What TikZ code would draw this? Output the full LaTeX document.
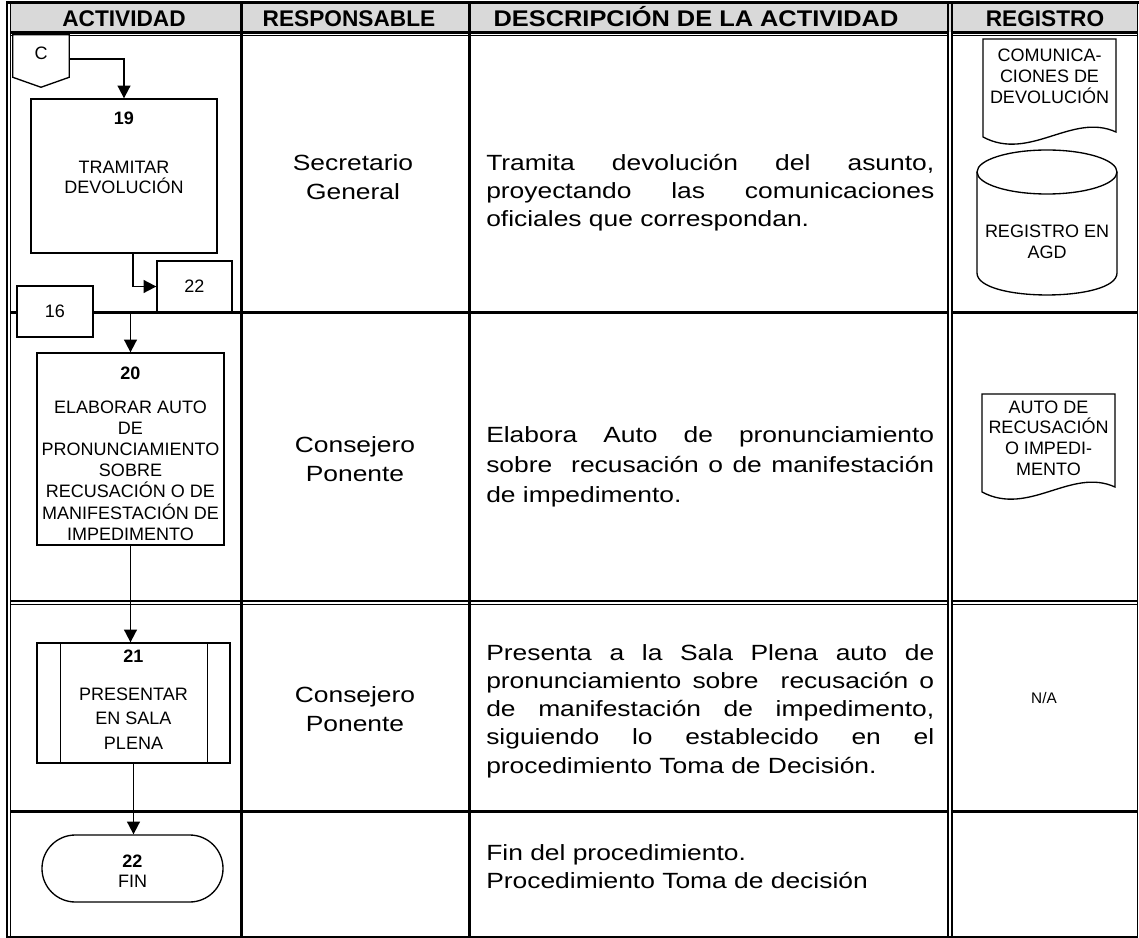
\documentclass[tikz,border=0pt]{standalone}
\usepackage{fontspec}
\setmainfont{Liberation Sans}
\newfontfamily\descfont{Liberation Sans}[FakeStretch=1.2]
\newfontfamily\hdrwide{Liberation Sans}[FakeStretch=1.12]
\usetikzlibrary{arrows.meta,calc}
\definecolor{hdr}{RGB}{217,217,217}
\newcommand\flines[2][15.6pt]{\vtop{\fontsize{13.5}{#1}\selectfont\halign{\hfil##\hfil\cr#2\crcr}}}
\newcommand\rlines[1]{\vtop{\descfont\fontsize{16.5}{21.75}\selectfont\halign{\hfil##\hfil\cr#1\crcr}}}
\newcommand\desctext[2][21pt]{\parbox[t]{336pt}{\descfont\fontsize{16.5}{#1}\selectfont\parindent=0pt #2}}
\begin{document}
\begin{tikzpicture}[x=0.75pt,y=-0.75pt,
  thickln/.style={line width=2.25pt},
  thinln/.style={line width=0.9pt},
  fbox/.style={draw, line width=1pt, fill=white, inner sep=0pt},
  shp/.style={draw, line width=1pt},
  conn/.style={line width=1.4pt, -{Triangle[length=9.5pt,width=9.5pt]}},
  lbl/.style={inner sep=0pt, anchor=base},
  hdrtxt/.style={inner sep=0pt, anchor=base, font=\bfseries\fontsize{17}{20}\selectfont},
  small/.style={font=\fontsize{13.5}{15.6}\selectfont},
]
\useasboundingbox (0,0) rectangle (1139,938);
% ---------- table ----------
\fill[hdr] (10.5,3.5) rectangle (1137,32);
\draw[thickln] (6,2.5) -- (1138.5,2.5);
\draw[line width=1.6pt] (10.5,32.5) -- (948,32.5) (952,32.5) -- (1137.5,32.5);
\draw[thinln] (10.5,35.5) -- (948,35.5) (952,35.5) -- (1137.5,35.5);
\draw[thinln] (7,2) -- (7,937.5);
\draw[thinln] (10.5,2) -- (10.5,937.5);
\draw[thickln] (241,2) -- (241,937);
\draw[thickln] (469,2) -- (469,937);
\draw[thinln] (948,2) -- (948,937.5);
\draw[thinln] (952,2) -- (952,937.5);
\draw[line width=1pt] (1137.5,2) -- (1137.5,937.5);
\draw[thickln] (10.5,312) -- (948,312) (952,312) -- (1137.5,312);
\draw[thinln] (10.5,601) -- (948,601) (952,601) -- (1137.5,601);
\draw[thinln] (10.5,604.5) -- (948,604.5) (952,604.5) -- (1137.5,604.5);
\draw[thickln] (10.5,811) -- (948,811) (952,811) -- (1137.5,811);
\draw[line width=1pt] (7,937) -- (1137.5,937);
% ---------- header ----------
\node[hdrtxt] (h1) at (124,27) {ACTIVIDAD};
\node[hdrtxt] (h2) at (349,27) {RESPONSABLE};
\node[hdrtxt] (h3) at (696,27) {\hdrwide DESCRIPCIÓN DE LA ACTIVIDAD};
\node[hdrtxt] (h4) at (1045,27) {REGISTRO};
% ---------- flowchart ----------
\node[inner sep=0pt, minimum width=42pt, minimum height=31.5pt] (C) at (41,56) {};
\draw[shp, fill=white] (C.north west) -- (C.north east) -- (C.south east) -- ($(C.south)+(0,10)$) -- (C.south west) -- cycle;
\node[small, inner sep=0pt] (Ct) at (41,53) {C};
\node[fbox, minimum width=139.5pt, minimum height=115.5pt] (b19) at (124,176) {};
\node[fbox, small, minimum width=56.25pt, minimum height=38.25pt] (k22) at (194.5,286.5) {22};
\node[fbox, small, minimum width=57pt, minimum height=38.25pt] (k16) at (55,311.5) {16};
\node[fbox, minimum width=140.25pt, minimum height=144pt] (b20) at (130.5,449) {};
\node[fbox, minimum width=144.75pt, minimum height=90pt] (b21) at (133.5,703) {};
\draw[line width=1pt] ([xshift=18pt]b21.north west) -- ([xshift=18pt]b21.south west);
\draw[line width=1pt] ([xshift=-17.25pt]b21.north east) -- ([xshift=-17.25pt]b21.south east);
\node[fbox, rounded corners=25pt, minimum width=135.75pt, minimum height=50.25pt] (term) at (132.5,868.5) {};
% texts in boxes
\node[lbl, small] (n19) at (124,125) {\textbf{19}};
\node[lbl] (t19) at (124,174) {\flines[15pt]{TRAMITAR\cr DEVOLUCIÓN}};
\node[lbl, small] (n20) at (130.5,379) {\textbf{20}};
\node[lbl] (t20) at (130.5,413) {\flines[15.9pt]{ELABORAR AUTO\cr DE\cr PRONUNCIAMIENTO\cr SOBRE\cr RECUSACIÓN O DE\cr MANIFESTACIÓN DE\cr IMPEDIMENTO}};
\node[lbl, small] (n21) at (133.5,662) {\textbf{21}};
\node[lbl] (t21) at (133.5,700) {\flines[18.4pt]{PRESENTAR\cr EN SALA\cr PLENA}};
\node[lbl, small] (n22) at (132.5,867) {\textbf{22}};
\node[lbl, small] (t22) at (132.5,887) {FIN};
% connectors
\draw[conn] ([yshift=-2.25pt]C.east) -| (b19.north);
\draw[conn] ([xshift=6.75pt]b19.south) |- (k22.west);
\draw[conn] (k16.east) -| (b20.north);
\draw[conn] (b20.south) -- (b20.south |- b21.north);
\draw[conn] (b21.south) -- (b21.south |- term.north);
% ---------- responsable ----------
\node[lbl] (r1) at (353,171) {\rlines{Secretario\cr General}};
\node[lbl] (r2) at (355,452) {\rlines{Consejero\cr Ponente}};
\node[lbl] (r3) at (355,702) {\rlines{Consejero\cr Ponente}};
% ---------- descripcion ----------
\node[inner sep=0pt, anchor=base west] (d1) at (486,171) {\desctext{Tramita devolución del asunto,\linebreak proyectando las comunicaciones\linebreak oficiales que correspondan.}};
\node[inner sep=0pt, anchor=base west] (d2) at (486,442) {\desctext[22.5pt]{Elabora Auto de pronunciamiento\linebreak sobre\ \ recusación o de manifestación\linebreak de impedimento.}};
\node[inner sep=0pt, anchor=base west] (d3) at (486,660) {\desctext[21.2pt]{Presenta a la Sala Plena auto de\linebreak pronunciamiento sobre\ \ recusación o\linebreak de manifestación de impedimento,\linebreak siguiendo lo establecido en el\linebreak procedimiento Toma de Decisión.}};
\node[inner sep=0pt, anchor=base west] (d4) at (486,860) {\desctext{\raggedright Fin del procedimiento.\\Procedimiento Toma de decisión}};
% ---------- registro ----------
\draw[shp] (983,39) -- (1116,39) -- (1116,132) .. controls (1072,112) and (1030,162) .. (983,137) -- cycle;
\node[lbl] (g1) at (1049.5,62) {\flines{COMUNICA-\cr CIONES DE\cr DEVOLUCIÓN}};
\draw[shp] (977,172) -- (977,273) .. controls (977,302.3) and (1117,302.3) .. (1117,273) -- (1117,172);
\draw[shp] (1047,172) ellipse [x radius=52.5pt, y radius=16.5pt];
\node[lbl] (g2) at (1047,238) {\flines{REGISTRO EN\cr AGD}};
\draw[shp] (982,394) -- (1115,394) -- (1115,487) .. controls (1071,467) and (1029,517) .. (982,492) -- cycle;
\node[lbl] (g3) at (1048.5,413) {\flines{AUTO DE\cr RECUSACIÓN\cr O IMPEDI-\cr MENTO}};
\node[inner sep=0pt, font=\fontsize{11.5}{13}\selectfont] (g4) at (1044,698) {N/A};
\end{tikzpicture}
\end{document}
